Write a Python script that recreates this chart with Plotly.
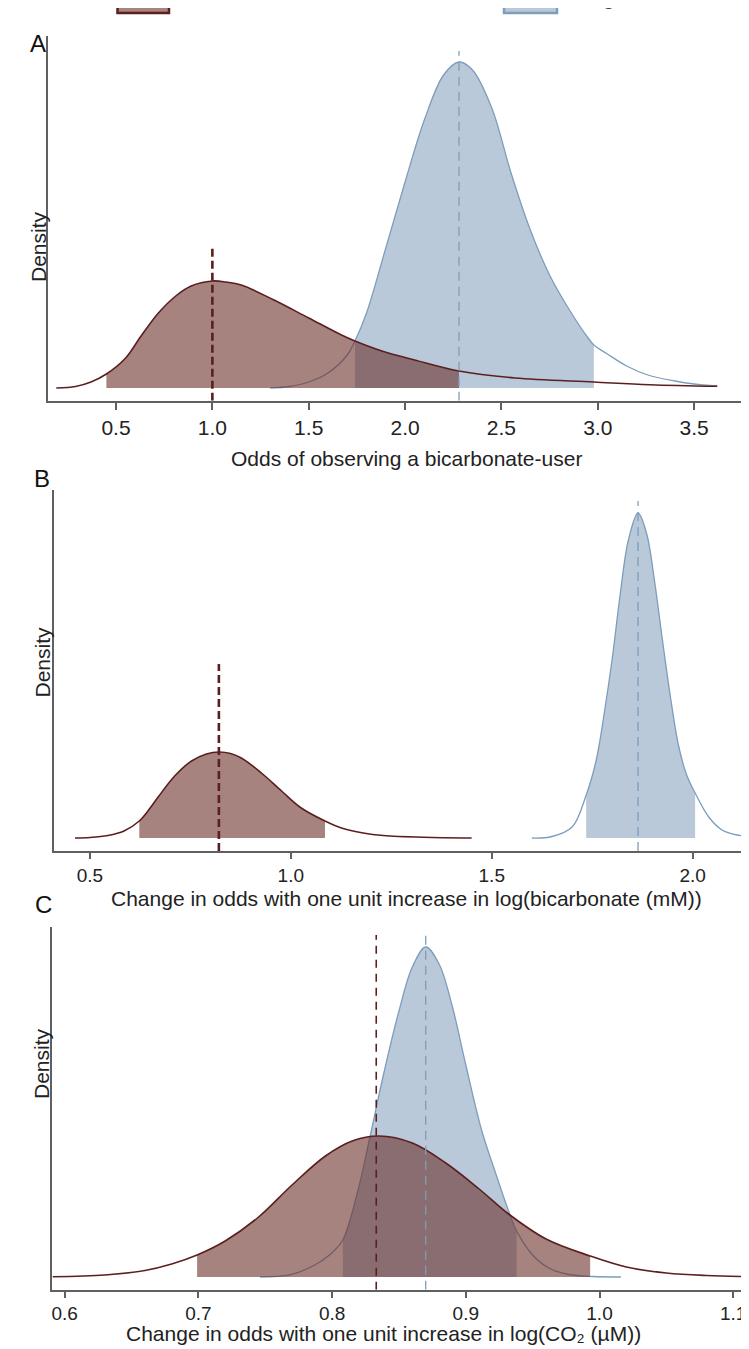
import plotly.graph_objects as go

W, H = 749, 1349

# ---------------- data ----------------
# Panel A: odds of observing a bicarbonate-user
a_red_x = [0.19, 0.29, 0.37, 0.45, 0.55, 0.63, 0.72, 0.81, 0.89, 1.00, 1.07, 1.15, 1.32, 1.50, 1.67, 1.74, 1.88, 2.05, 2.28, 2.57, 2.98, 3.27, 3.62]
a_red_d = [0, 1.5, 6, 14, 30, 52, 75, 92, 102, 107, 106, 103, 88, 70, 53, 47, 37, 28, 17, 10, 6, 3.3, 1.7]
a_red_ci = [0.45, 2.28]
a_red_med = 1.00
a_red_top = 143

a_blue_x = [1.30, 1.40, 1.50, 1.60, 1.70, 1.74, 1.80, 1.90, 2.00, 2.10, 2.20, 2.28, 2.35, 2.45, 2.55, 2.65, 2.75, 2.85, 2.95, 2.98, 3.05, 3.15, 3.26, 3.40, 3.50, 3.62]
a_blue_d = [0, 1.5, 6, 15, 33, 47, 75, 140, 206, 268, 313, 326, 318, 280, 215, 158, 113, 79, 50, 43, 34, 22, 13, 7, 4, 2]
a_blue_ci = [1.74, 2.98]
a_blue_med = 2.28
a_blue_top = 337

# Panel B: change in odds per unit log(bicarbonate)
b_red_x = [0.463, 0.50, 0.545, 0.585, 0.623, 0.65, 0.670, 0.711, 0.753, 0.79, 0.821, 0.85, 0.877, 0.927, 0.977, 1.026, 1.085, 1.126, 1.18, 1.230, 1.330, 1.450]
b_red_d = [0, 0.5, 2.5, 7, 17, 30, 41, 62, 77, 84, 86, 84.5, 80, 65, 47, 30, 17, 10, 5, 2.5, 0.7, 0]
b_red_ci = [0.623, 1.085]
b_red_med = 0.821
b_red_top = 174

b_blue_x = [1.60, 1.65, 1.70, 1.735, 1.76, 1.78, 1.80, 1.82, 1.84, 1.864, 1.885, 1.905, 1.925, 1.945, 1.965, 1.985, 2.006, 2.04, 2.073, 2.11, 2.16]
b_blue_d = [0, 1.5, 11, 43, 78, 125, 180, 245, 298, 325, 305, 257, 197, 140, 92, 63, 45, 21, 8, 3, 1]
b_blue_ci = [1.735, 2.006]
b_blue_med = 1.864
b_blue_top = 337

# Panel C: change in odds per unit log(CO2)
c_red_x = [0.591, 0.63, 0.66, 0.68, 0.699, 0.72, 0.745, 0.77, 0.795, 0.815, 0.835, 0.86, 0.885, 0.91, 0.932, 0.96, 0.993, 1.02, 1.05, 1.08, 1.118]
c_red_d = [0.3, 2, 6.5, 13, 22, 36, 60, 92, 121, 136, 141, 134, 114, 88, 63, 38, 21, 10, 4, 1.5, 0.3]
c_red_ci = [0.699, 0.993]
c_red_med = 0.833
c_red_top = 342

c_blue_x = [0.746, 0.769, 0.787, 0.798, 0.808, 0.819, 0.828, 0.838, 0.850, 0.860, 0.870, 0.880, 0.890, 0.900, 0.912, 0.922, 0.932, 0.938, 0.950, 0.962, 0.977, 0.995, 1.016]
c_blue_d = [0, 2.3, 12, 22, 37, 85, 138, 200, 266, 310, 330, 313, 270, 212, 146, 105, 66, 46, 22, 9, 2.5, 0.5, 0]
c_blue_ci = [0.808, 0.938]
c_blue_med = 0.870
c_blue_top = 342

a_ticks = [0.5, 1.0, 1.5, 2.0, 2.5, 3.0, 3.5]
b_ticks = [0.5, 1.0, 1.5, 2.0]
c_ticks = [0.6, 0.7, 0.8, 0.9, 1.0, 1.1]

legend_names = ["Local lakes", "Regional"]
titles = ["Odds of observing a bicarbonate-user",
          "Change in odds with one unit increase in log(bicarbonate (mM))",
          "Change in odds with one unit increase in log(CO\u2082 (\u00b5M))"]
panel_letters = ["A", "B", "C"]

# ---------------- styling ----------------
FONT = "Liberation Sans, Arial, DejaVu Sans, sans-serif"
RED_LINE = "#5c1f1f"
RED_FILL = "rgba(107,48,42,0.6)"
BLUE_LINE = "#7d9dba"
BLUE_FILL = "#b9c9da"
AXIS = "#606060"


def py(p):
    return 1 - p / H


def pxn(p):
    return p / W


panels = [
    dict(xd=(40, 736), yd=(28, 392.7), base=380, xr=(0.147, 3.759), ticks=a_ticks,
         red=(a_red_x, a_red_d, a_red_ci, a_red_med, a_red_top, 2.6, "8px,4px"),
         blue=(a_blue_x, a_blue_d, a_blue_ci, a_blue_med, a_blue_top),
         letter=(20, 20), dens=(17, 201), title=(398, 438, 21), tick=(21, 7)),
    dict(xd=(45.7, 749), yd=(481.7, 843), base=830, xr=(0.410, 2.160), ticks=b_ticks,
         red=(b_red_x, b_red_d, b_red_ci, b_red_med, b_red_top, 2.6, "8px,4px"),
         blue=(b_blue_x, b_blue_d, b_blue_ci, b_blue_med, b_blue_top),
         letter=(24, 470), dens=(20, 654), title=(398, 890, 21), tick=(19, 6)),
    dict(xd=(44.3, 749), yd=(919.3, 1281.7), base=1269, xr=(0.5907, 1.1178), ticks=c_ticks,
         red=(c_red_x, c_red_d, c_red_ci, c_red_med, c_red_top, 1.6, "8px,6px"),
         blue=(c_blue_x, c_blue_d, c_blue_ci, c_blue_med, c_blue_top),
         letter=(25, 912), dens=(20, 1093), title=(375, 1337.5, 21), tick=(19, 6)),
]

fig = go.Figure()
shapes = []
annotations = []
layout = dict(width=W, height=H, margin=dict(l=0, r=0, t=0, b=0),
              paper_bgcolor="white", plot_bgcolor="white", showlegend=False,
              font=dict(family=FONT, size=21, color="#222"))


def subset(xs, ds, lo, hi):
    sx, sd = [], []
    for x, d in zip(xs, ds):
        if lo - 1e-9 <= x <= hi + 1e-9:
            sx.append(x)
            sd.append(d)
    return sx, sd


for i, p in enumerate(panels):
    n = "" if i == 0 else str(i + 1)
    xa, ya = "x" + n, "y" + n
    top_px, axis_px = p["yd"]
    ymin = -(axis_px - p["base"])
    ymax = p["base"] - top_px

    bx, bd, bci, bmed, btop = p["blue"]
    rx, rd, rci, rmed, rtop, rw, rdash = p["red"]

    sx, sd = subset(bx, bd, *bci)
    fig.add_trace(go.Scatter(x=sx, y=sd, xaxis=xa, yaxis=ya, mode="lines", fill="tozeroy",
                             fillcolor=BLUE_FILL, line=dict(width=0, shape="spline", color=BLUE_FILL),
                             hoverinfo="skip"))
    fig.add_trace(go.Scatter(x=bx, y=bd, xaxis=xa, yaxis=ya, mode="lines",
                             line=dict(width=1.3, shape="spline", color=BLUE_LINE), hoverinfo="skip"))
    sx, sd = subset(rx, rd, *rci)
    fig.add_trace(go.Scatter(x=sx, y=sd, xaxis=xa, yaxis=ya, mode="lines", fill="tozeroy",
                             fillcolor=RED_FILL, line=dict(width=0, shape="spline", color=RED_FILL),
                             hoverinfo="skip"))
    fig.add_trace(go.Scatter(x=rx, y=rd, xaxis=xa, yaxis=ya, mode="lines",
                             line=dict(width=1.6, shape="spline", color=RED_LINE), hoverinfo="skip"))

    shapes.append(dict(type="line", xref=xa, yref=ya, x0=bmed, x1=bmed, y0=ymin, y1=btop,
                       line=dict(color=BLUE_LINE, width=1.3, dash="9px,6px"), layer="above"))
    shapes.append(dict(type="line", xref=xa, yref=ya, x0=rmed, x1=rmed, y0=ymin, y1=rtop,
                       line=dict(color=RED_LINE, width=rw, dash=rdash), layer="above"))

    tsize, tlen = p["tick"]
    layout["xaxis" + n] = dict(domain=[pxn(p["xd"][0]), pxn(p["xd"][1])], range=list(p["xr"]),
                               anchor=ya, showline=True, linecolor=AXIS, linewidth=1.6,
                               ticks="outside", ticklen=tlen, tickwidth=1.6, tickcolor=AXIS,
                               tickvals=p["ticks"], tickformat=".1f", showgrid=False, zeroline=False,
                               tickfont=dict(family=FONT, size=tsize, color="#222"), fixedrange=True)
    layout["yaxis" + n] = dict(domain=[py(axis_px), py(top_px)], range=[ymin, ymax], anchor=xa,
                               showline=True, linecolor=AXIS, linewidth=1.6, ticks="",
                               showticklabels=False, showgrid=False, zeroline=False, fixedrange=True)

    lx, ly = p["letter"]
    annotations.append(dict(text=panel_letters[i], xref="paper", yref="paper", x=pxn(lx), y=py(ly),
                            showarrow=False, font=dict(family=FONT, size=24, color="#111")))
    dx, dy = p["dens"]
    annotations.append(dict(text="Density", xref="paper", yref="paper", x=pxn(dx), y=py(dy),
                            textangle=-90, showarrow=False, font=dict(family=FONT, size=21, color="#222")))
    tx, ty, tsz = p["title"]
    annotations.append(dict(text=titles[i], xref="paper", yref="paper", x=pxn(tx), y=py(ty),
                            showarrow=False, borderpad=0,
                            font=dict(family=FONT, size=tsz, color="#222")))

# legend (cut off at the top edge of the picture)
leg = [(109.5, 161, 175, RED_LINE, "rgba(107,48,42,0.6)", legend_names[0]),
       (496, 549, 566, BLUE_LINE, BLUE_FILL, legend_names[1])]
for x0, x1, tx, lc, fc, name in leg:
    shapes.append(dict(type="rect", xref="paper", yref="paper", x0=pxn(x0), x1=pxn(x1),
                       y0=py(5), y1=py(-14), line=dict(color=lc, width=2.5), fillcolor=fc))
    annotations.append(dict(text=name, xref="paper", yref="paper", x=pxn(tx), y=py(3),
                            xanchor="left", yanchor="bottom", showarrow=False,
                            font=dict(family=FONT, size=21, color="#444")))

layout["shapes"] = shapes
layout["annotations"] = annotations
fig.update_layout(**layout)
fig.write_html("out.html")
